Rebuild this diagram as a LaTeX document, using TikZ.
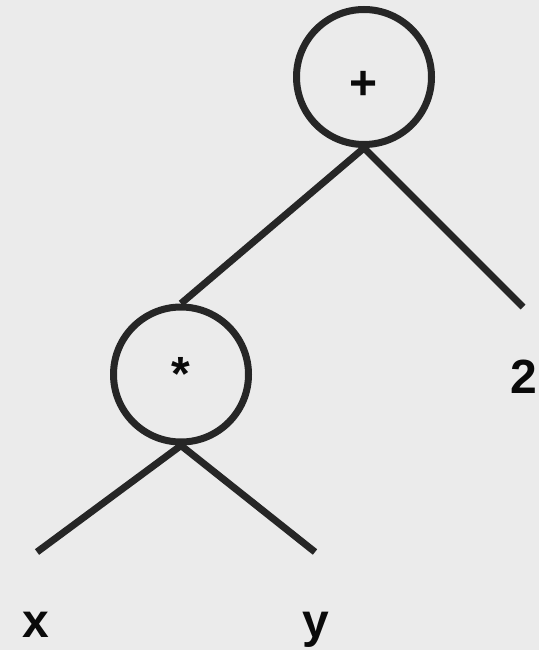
\documentclass[tikz,border=0pt]{standalone}
\usepackage{fontspec}
\setmainfont{Liberation Sans}
\definecolor{treeBg}{HTML}{EBEBEB}
\definecolor{treeInk}{HTML}{262626}
\definecolor{treeTxt}{HTML}{0A0A0A}

\begin{document}
\begin{tikzpicture}[x=1pt,y=-1pt,line width=7pt,
  opnode/.style={circle,draw=treeInk,minimum size=135pt,inner sep=0pt},
  sym/.style={treeTxt,font=\fontsize{48}{48}\selectfont\bfseries,inner sep=0pt,anchor=base}]
\fill[treeBg] (0,0) rectangle (539,650);
\useasboundingbox (0,0) rectangle (539,650);
\node[opnode] (plus) at (364,77) {};
\node[opnode] (times) at (181,374.5) {};
\node[sym] (plustxt) at (364,100) {+};
\node[sym] (timestxt) at (181,390) {*};
\coordinate (ctwo) at (523,307);
\coordinate (cx) at (37,552);
\coordinate (cy) at (315,552);
\draw[treeInk] (plus.south) -- (times.north);
\draw[treeInk] (plus.south) -- (ctwo);
\draw[treeInk] (times.south) -- (cx);
\draw[treeInk] (times.south) -- (cy);
\node[sym] (two) at (524,393) {2};
\node[sym] (x) at (35.5,637) {x};
\node[sym] (y) at (316,637) {y};
\end{tikzpicture}
\end{document}
